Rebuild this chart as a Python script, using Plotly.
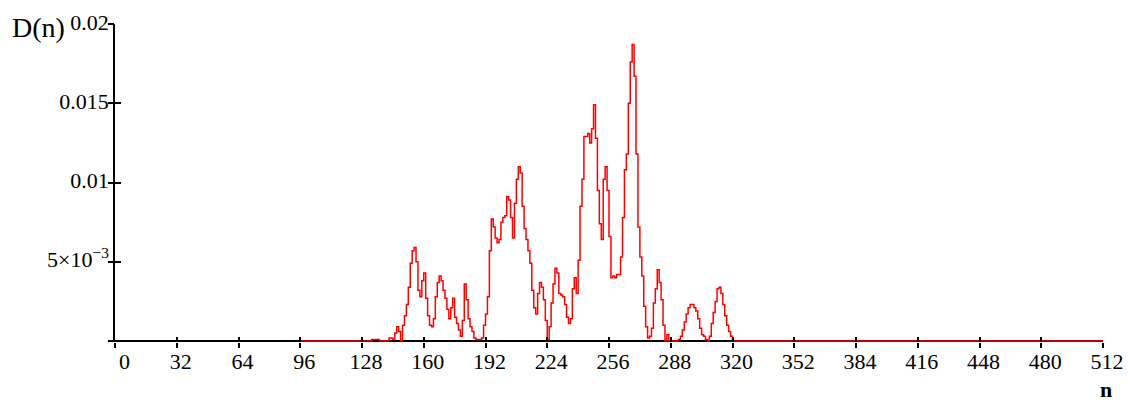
import plotly.graph_objects as go

# Sample index n and the measured D(n) over the active band
n_vals = [96] + list(range(130, 321)) + [512]

d_band = [
    0.0, 0.0, 0.0,                                   # 130-132
    0.0001, 0.0001, 0.0001, 0.0001, 0.0,             # 133-137
    0.0, 0.0, 0.0, 0.0,                              # 138-141
    0.0002, 0.0002, 0.0001, 0.0005, 0.0009,          # 142-146
    0.0006, 0.0, 0.001, 0.0016, 0.0023,              # 147-151
    0.0034, 0.0049, 0.0057, 0.0059, 0.005,           # 152-156
    0.0032, 0.0028, 0.0038, 0.0043, 0.0027,          # 157-161
    0.0016, 0.001, 0.0009, 0.0014, 0.0028,           # 162-166
    0.0037, 0.0041, 0.0038, 0.0032, 0.0027,          # 167-171
    0.002, 0.0014, 0.0021, 0.0027, 0.0015,           # 172-176
    0.0011, 0.0007, 0.0003, 0.0013, 0.0036,          # 177-181
    0.0026, 0.0014, 0.0009, 0.0006, 0.0002,          # 182-186
    0.0001, 0.0001, 0.0001, 0.0002, 0.001,           # 187-191
    0.0017, 0.0028, 0.0057, 0.0077, 0.0072,          # 192-196
    0.0065, 0.0062, 0.0064, 0.0075, 0.0078,          # 197-201
    0.0079, 0.0091, 0.0089, 0.0078, 0.0065,          # 202-206
    0.0087, 0.0102, 0.011, 0.0106, 0.0085,           # 207-211
    0.0071, 0.0064, 0.0057, 0.0049, 0.0032,          # 212-216
    0.0021, 0.0017, 0.003, 0.0037, 0.0034,           # 217-221
    0.0026, 0.0013, 0.0001, 0.0009, 0.0024,          # 222-226
    0.0036, 0.0046, 0.0043, 0.003, 0.0029,           # 227-231
    0.0028, 0.0023, 0.0015, 0.0011, 0.0014,          # 232-236
    0.0033, 0.004, 0.003, 0.0051, 0.0085,            # 237-241
    0.0102, 0.0129, 0.0129, 0.0131, 0.0125,          # 242-246
    0.0134, 0.0149, 0.0128, 0.0095, 0.0074,          # 247-251
    0.0064, 0.0102, 0.011, 0.0095, 0.0066,           # 252-256
    0.004, 0.0041, 0.004, 0.0042, 0.0042,            # 257-261
    0.0053, 0.0078, 0.0108, 0.0118, 0.015,           # 262-266
    0.0176, 0.0187, 0.0167, 0.0118, 0.0072,          # 267-271
    0.0053, 0.0041, 0.0022, 0.0009, 0.0002,          # 272-276
    0.0003, 0.0008, 0.0024, 0.0033, 0.0045,          # 277-281
    0.0037, 0.0026, 0.001, 0.0, 0.0004,              # 282-286
    0.0, 0.0, 0.0, 0.0, 0.0,                         # 287-291
    0.0001, 0.0003, 0.0007, 0.0012, 0.0017,          # 292-296
    0.0021, 0.0023, 0.0023, 0.0021, 0.0019,          # 297-301
    0.0014, 0.0008, 0.0004, 0.0003, 0.0001,          # 302-306
    0.0, 0.0003, 0.0011, 0.0018, 0.0025,             # 307-311
    0.0033, 0.0034, 0.003, 0.0023, 0.0016,           # 312-316
    0.001, 0.0006, 0.0003, 0.0,                      # 317-320
]
d_vals = [0.0] + d_band + [0.0]

x_ticks = list(range(0, 513, 32))
x_ticktext = ["\u2007" + "0"] + [str(v) for v in x_ticks[1:]]
y_ticks = [0, 0.005, 0.01, 0.015, 0.02]
y_ticktext = ["", "5\u00d710<sup>\u22123</sup>", "0.01", "0.015", "0.02"]

FONT = "Liberation Serif"
INK = "#000000"

fig = go.Figure()
fig.add_trace(go.Scatter(
    x=n_vals, y=d_vals, mode="lines",
    line=dict(color="#ff0000", width=1.5, shape="hv"),
    hoverinfo="skip", showlegend=False,
))
# transparent trace that activates the overlay axes carrying the other tick halves
fig.add_trace(go.Scatter(x=[256], y=[0.01], xaxis="x2", yaxis="y2",
                         mode="markers", marker=dict(opacity=0, size=1),
                         showlegend=False, hoverinfo="skip"))

common_x = dict(range=[0, 512], tickmode="array", tickvals=x_ticks,
                showgrid=False, zeroline=False, tickcolor=INK, tickwidth=1.5,
                ticklen=5, automargin=False)
common_y = dict(range=[-0.00006, 0.02], tickmode="array", tickvals=y_ticks,
                showgrid=False, tickcolor=INK, tickwidth=1.5, ticklen=6,
                automargin=False)

fig.update_layout(
    width=1129, height=403,
    margin=dict(l=115, r=26, t=24, b=61, autoexpand=False),
    paper_bgcolor="white", plot_bgcolor="white",
    showlegend=False,
    xaxis=dict(**common_x, ticks="outside", ticktext=x_ticktext,
               showline=False, ticklabelshift=4, ticklabelstandoff=-5,
               tickfont=dict(family=FONT, size=22, color=INK)),
    xaxis2=dict(**common_x, ticks="inside", overlaying="x", anchor="y2",
                side="bottom", showline=False, showticklabels=False),
    # labelled y axis carries the inner tick halves so labels sit close to the line
    yaxis=dict(**common_y, ticks="inside", ticktext=y_ticktext,
               showline=True, linecolor=INK, linewidth=1.5,
               zeroline=True, zerolinecolor=INK, zerolinewidth=1.5,
               ticklabelshift=-2,
               tickfont=dict(family=FONT, size=22, color=INK)),
    yaxis2=dict(**common_y, ticks="outside", overlaying="y", anchor="x2",
                side="left", showline=False, zeroline=False,
                showticklabels=False),
    annotations=[
        dict(text="D(n)", xref="paper", yref="paper", x=-0.1063, y=0.99,
             xanchor="left", yanchor="middle", showarrow=False,
             font=dict(family=FONT, size=28, color=INK)),
        dict(text="<b>n</b>", xref="paper", yref="paper", x=1.003, y=-0.148,
             xanchor="center", yanchor="middle", showarrow=False,
             font=dict(family=FONT, size=22, color=INK)),
    ],
)

fig.write_html("out.html")
